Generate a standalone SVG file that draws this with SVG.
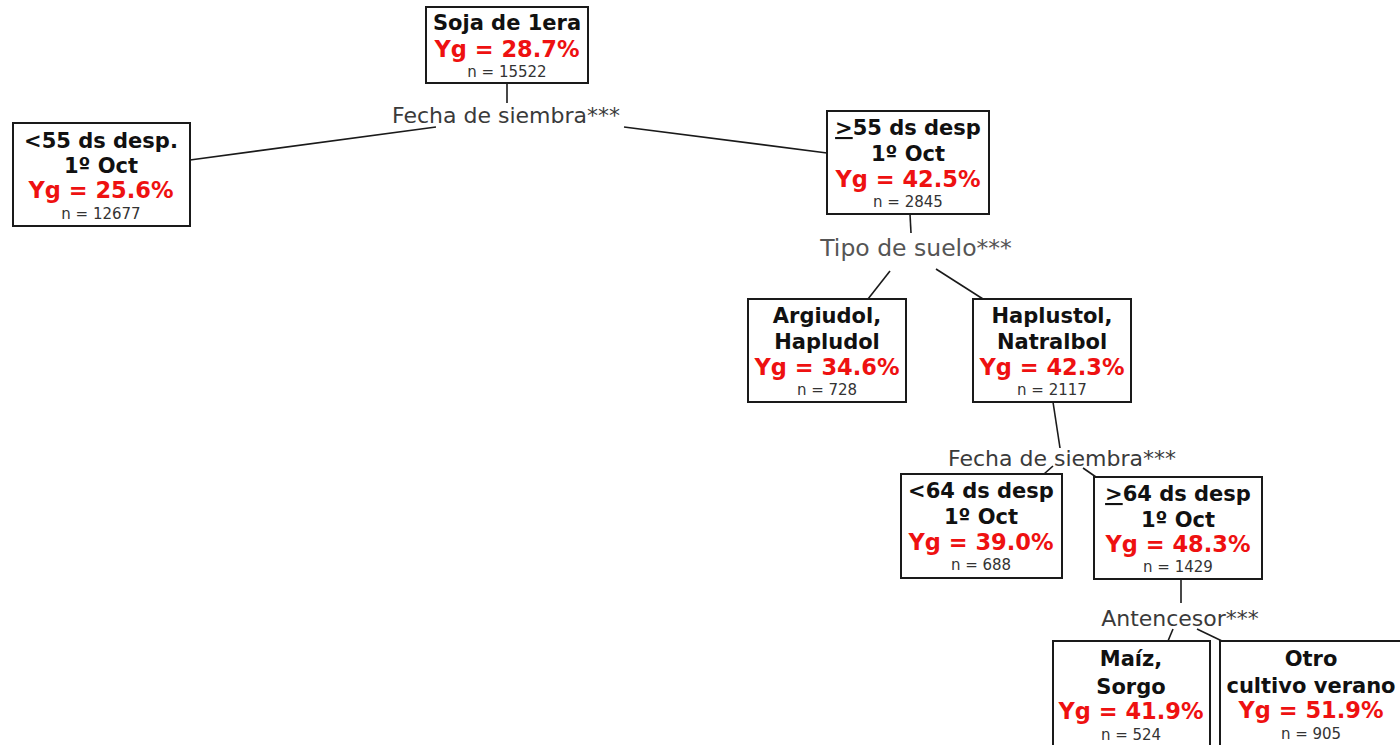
<svg xmlns="http://www.w3.org/2000/svg" width="1400" height="745" viewBox="0 0 1400 745">
  <style>
    .box { fill: #ffffff; stroke: #1a1a1a; stroke-width: 2; }
    .t { font-family: "DejaVu Sans", Verdana, sans-serif; font-weight: bold; font-size: 21px; fill: #111111; text-anchor: middle; }
    .yg { font-family: "DejaVu Sans", Verdana, sans-serif; font-weight: bold; font-size: 22.5px; fill: #ee1111; text-anchor: middle; }
    .n { font-family: "DejaVu Sans", Verdana, sans-serif; font-size: 15px; fill: #333333; text-anchor: middle; }
    .lbl { font-family: "DejaVu Sans", Verdana, sans-serif; font-size: 22px; fill: #3a3a3a; text-anchor: middle; }
    .edge { stroke: #1a1a1a; stroke-width: 1.6; fill: none; }
    .ul { text-decoration: underline; }
  </style>
  <rect width="1400" height="745" fill="#ffffff"/>

  <!-- split connectors -->
  <g id="connectors">
    <line class="edge" x1="507" y1="83" x2="507" y2="103"/>
    <line class="edge" x1="436" y1="127" x2="190" y2="160"/>
    <line class="edge" x1="624" y1="127" x2="827" y2="153"/>
    <line class="edge" x1="910" y1="214" x2="911" y2="233"/>
    <line class="edge" x1="890" y1="271" x2="868" y2="299"/>
    <line class="edge" x1="936" y1="269" x2="983" y2="299"/>
    <line class="edge" x1="1053" y1="402" x2="1060" y2="448"/>
    <line class="edge" x1="1053" y1="466" x2="1044" y2="474"/>
    <line class="edge" x1="1083" y1="468" x2="1096" y2="477"/>
    <line class="edge" x1="1181" y1="579" x2="1181" y2="603"/>
    <line class="edge" x1="1173" y1="629" x2="1168" y2="641"/>
    <line class="edge" x1="1197" y1="629" x2="1222" y2="641"/>
  </g>

  <!-- split labels -->
  <g id="labels">
    <text class="lbl" x="506" y="123">Fecha de siembra***</text>
    <text class="lbl" x="916" y="256" style="font-size:23.5px; fill:#555555">Tipo de suelo***</text>
    <text class="lbl" x="1062" y="466">Fecha de siembra***</text>
    <text class="lbl" x="1180" y="626">Antencesor***</text>
  </g>

  <g id="root">
    <rect class="box" x="426" y="7" width="162" height="76"/>
    <text class="t" x="507" y="30">Soja de 1era</text>
    <text class="yg" x="507" y="57">Yg = 28.7%</text>
    <text class="n" x="507" y="77">n = 15522</text>
  </g>

  <g id="early">
    <rect class="box" x="13" y="123" width="177" height="103"/>
    <text class="t" x="101" y="148">&lt;55 ds desp.</text>
    <text class="t" x="101" y="173">1º Oct</text>
    <text class="yg" x="101" y="198">Yg = 25.6%</text>
    <text class="n" x="101" y="219">n = 12677</text>
  </g>

  <g id="late">
    <rect class="box" x="827" y="111" width="162" height="103"/>
    <text class="t" x="908" y="135"><tspan class="ul">&gt;</tspan>55 ds desp</text>
    <text class="t" x="908" y="161">1º Oct</text>
    <text class="yg" x="908" y="187">Yg = 42.5%</text>
    <text class="n" x="908" y="207">n = 2845</text>
  </g>

  <g id="argiudol">
    <rect class="box" x="748" y="299" width="158" height="103"/>
    <text class="t" x="827" y="323">Argiudol,</text>
    <text class="t" x="827" y="349">Hapludol</text>
    <text class="yg" x="827" y="375">Yg = 34.6%</text>
    <text class="n" x="827" y="395">n = 728</text>
  </g>

  <g id="haplustol">
    <rect class="box" x="973" y="299" width="158" height="103"/>
    <text class="t" x="1052" y="323">Haplustol,</text>
    <text class="t" x="1052" y="349">Natralbol</text>
    <text class="yg" x="1052" y="375">Yg = 42.3%</text>
    <text class="n" x="1052" y="395">n = 2117</text>
  </g>

  <g id="before64">
    <rect class="box" x="901" y="474" width="161" height="104"/>
    <text class="t" x="981" y="498">&lt;64 ds desp</text>
    <text class="t" x="981" y="524">1º Oct</text>
    <text class="yg" x="981" y="550">Yg = 39.0%</text>
    <text class="n" x="981" y="570">n = 688</text>
  </g>

  <g id="after64">
    <rect class="box" x="1094" y="477" width="168" height="102"/>
    <text class="t" x="1178" y="501"><tspan class="ul">&gt;</tspan>64 ds desp</text>
    <text class="t" x="1178" y="527">1º Oct</text>
    <text class="yg" x="1178" y="552">Yg = 48.3%</text>
    <text class="n" x="1178" y="572">n = 1429</text>
  </g>

  <g id="maiz">
    <rect class="box" x="1053" y="641" width="157" height="110"/>
    <text class="t" x="1131" y="666">Maíz,</text>
    <text class="t" x="1131" y="694">Sorgo</text>
    <text class="yg" x="1131" y="719">Yg = 41.9%</text>
    <text class="n" x="1131" y="740">n = 524</text>
  </g>

  <g id="otro">
    <rect class="box" x="1220" y="641" width="190" height="110"/>
    <text class="t" x="1311" y="666">Otro</text>
    <text class="t" x="1311" y="693">cultivo verano</text>
    <text class="yg" x="1311" y="718">Yg = 51.9%</text>
    <text class="n" x="1311" y="739">n = 905</text>
  </g>
</svg>
